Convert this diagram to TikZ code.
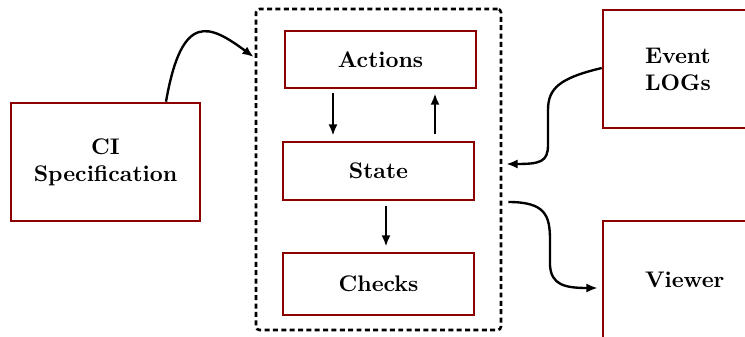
\documentclass[tikz,border=0pt]{standalone}
\usetikzlibrary{arrows.meta,calc}
\definecolor{boxred}{RGB}{139,0,0}
\tikzset{
  redbox/.style={draw=boxred, line width=1.15pt, rectangle, inner sep=0pt, font=\bfseries, align=center},
  sidebox/.style={draw=boxred, line width=1.15pt, rectangle, inner xsep=18.6pt, inner ysep=0pt, text width=46.5pt, minimum height=52.3pt, font=\bfseries, align=left},
  container/.style={draw=black, line width=1.15pt, dash pattern=on 2.2pt off 1.5pt, rounded corners=1.5pt, rectangle, inner sep=0pt},
  arr/.style={line width=1.05pt, -{Latex[length=5pt,width=4pt]}}
}
\begin{document}
\begin{tikzpicture}[x=0.443pt,y=-0.443pt]
\useasboundingbox (0,0) rectangle (745,337);
\node[container, minimum width=108.5pt, minimum height=142.2pt] (core) at (378.5,169.5) {};
\node[redbox, minimum width=83.7pt, minimum height=52.3pt] (ci) at (105.5,162) {CI\\Specification};
\node[redbox, minimum width=84.6pt, minimum height=25.3pt] (act) at (380.5,59.5) {Actions};
\node[redbox, minimum width=84.6pt, minimum height=25.7pt] (st) at (378.5,171) {State};
\node[redbox, minimum width=84.6pt, minimum height=27.5pt] (chk) at (378.5,284) {Checks};
\node[sidebox] (ev) at (697.5,69) {Event\\LOGs};
\node[sidebox] (vw) at (697.5,280) {Viewer};
% inner arrows
\draw[arr] ($(act.south)+(-47.5,4)$) -- ($(st.north)+(-45.5,-5)$);
\draw[arr] ($(st.north)+(56.5,-7)$) -- ($(act.south)+(54.5,4)$);
\draw[arr] ($(st.south)+(7.5,5)$) -- ($(chk.north)+(7.5,-5)$);
% curved connectors
\coordinate (ciout) at ($(ci.north)+(60.5,0)$);
\coordinate (corein) at ($(core.west)+(-1,-112.5)$);
\draw[arr] (ciout) .. controls (182,10) and (210,25) .. (corein);
\coordinate (evin) at ($(core.east)+(4,-5.5)$);
\draw[arr] ($(ev.west)+(0,-1)$) .. controls (560,78) and (548,88) .. (548,110) -- (548,145) .. controls (548,162) and (540,164) .. (evin);
\coordinate (vwout) at ($(core.east)+(6,32.5)$);
\draw[arr] (vwout) .. controls (545,202) and (550,215) .. (550,240) -- (550,265) .. controls (551,285) and (565,288) .. ($(vw.west)+(-4,8)$);
\end{tikzpicture}
\end{document}
